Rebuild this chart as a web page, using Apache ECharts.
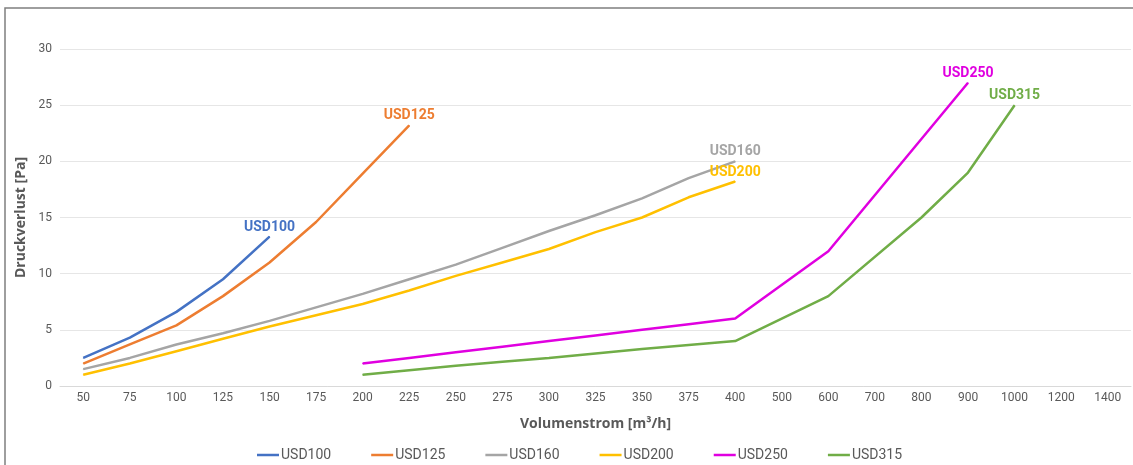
<!DOCTYPE html>
<html><head><meta charset="utf-8">
<script src="https://cdn.jsdelivr.net/npm/echarts@6/dist/echarts.min.js"></script>
<style>html,body{margin:0;padding:0;background:#fff}#c{width:1133px;height:465px}</style>
</head><body><div id="c"></div>
<script>
const categories = ['50','75','100','125','150','175','200','225','250','275','300','325','350','375','400','500','600','700','800','900','1000','1200','1400'];
const seriesNames = ['USD100','USD125','USD160','USD200','USD250','USD315'];
const seriesColors = ['#4472C4','#ED7D31','#A5A5A5','#FFC000','#E000E0','#70AD47'];
const usd100 = [2.5,4.3,6.6,9.5,13.3,null,null,null,null,null,null,null,null,null,null,null,null,null,null,null,null,null,null];
const usd125 = [2.0,3.7,5.4,8.0,11.0,14.6,18.9,23.2,null,null,null,null,null,null,null,null,null,null,null,null,null,null,null];
const usd160 = [1.5,2.5,3.7,4.7,5.8,7.0,8.2,9.5,10.8,12.3,13.8,15.2,16.7,18.5,20.0,null,null,null,null,null,null,null,null];
const usd200 = [1.0,2.0,3.1,4.2,5.3,6.3,7.3,8.5,9.8,11.0,12.2,13.7,15.0,16.8,18.2,null,null,null,null,null,null,null,null];
const usd250 = [null,null,null,null,null,null,2.0,2.5,3.0,3.5,4.0,4.5,5.0,5.5,6.0,null,12.0,null,null,27.0,null,null,null];
const usd315 = [null,null,null,null,null,null,1.0,1.4,1.8,2.15,2.5,2.9,3.3,3.65,4.0,null,8.0,null,15.0,19.0,25.0,null,null];
const seriesValues = [usd100,usd125,usd160,usd200,usd250,usd315];
const yTicks = {min:0,max:30,interval:5};

const font = 'Roboto';
const titleFont = 'Open Sans';
const chart = echarts.init(document.getElementById('c'), null, {renderer:'canvas'});
const series = seriesNames.map((name,i)=>{
  const vals = seriesValues[i];
  let last = -1; vals.forEach((v,k)=>{ if(v!=null) last=k; });
  const data = vals.map((v,k)=> k===last ? {value:v, label:{show:true, position:'top', distance:2, formatter:name, color:seriesColors[i], fontWeight:'bold', fontSize:14, fontFamily:font}} : v);
  return {name, type:'line', data, connectNulls:true, symbol:'circle', symbolSize:1, showSymbol:true,
    labelLayout:{hideOverlap:false},
    lineStyle:{width:2.5,color:seriesColors[i]}, itemStyle:{color:seriesColors[i]}, animation:false};
});
chart.setOption({
  animation:false,
  textStyle:{fontFamily:font},
  graphic:[{type:'rect', shape:{x:5,y:8,width:1140,height:470}, style:{fill:'none', stroke:'#7f7f7f', lineWidth:1.5}, silent:true, z:-1}],
  grid:{left:60,right:2,top:49,bottom:79},
  legend:{left:252, top:443, icon:'rect', itemWidth:22, itemHeight:2.5, itemGap:40,
    textStyle:{color:'#595959', fontSize:14, fontFamily:font, padding:[0,0,0,-3]}, data:seriesNames},
  xAxis:{type:'category', data:categories, boundaryGap:true,
    axisLine:{show:true, lineStyle:{color:'#D9D9D9'}}, axisTick:{show:false},
    axisLabel:{color:'#595959', fontSize:12, margin:6, interval:0, fontFamily:font},
    name:'Volumenstrom [m³/h]', nameLocation:'middle', nameGap:31,
    nameTextStyle:{color:'#595959', fontWeight:'bold', fontSize:14, fontFamily:titleFont}},
  yAxis:{type:'value', min:yTicks.min, max:yTicks.max, interval:yTicks.interval,
    axisLine:{show:false}, axisTick:{show:false},
    splitLine:{lineStyle:{color:'#E6E6E6', width:1.2}},
    axisLabel:{color:'#595959', fontSize:12, margin:8, fontFamily:font},
    name:'Druckverlust [Pa]', nameLocation:'middle', nameGap:30,
    nameTextStyle:{color:'#595959', fontWeight:'bold', fontSize:14, fontFamily:titleFont}},
  series
});
</script></body></html>
